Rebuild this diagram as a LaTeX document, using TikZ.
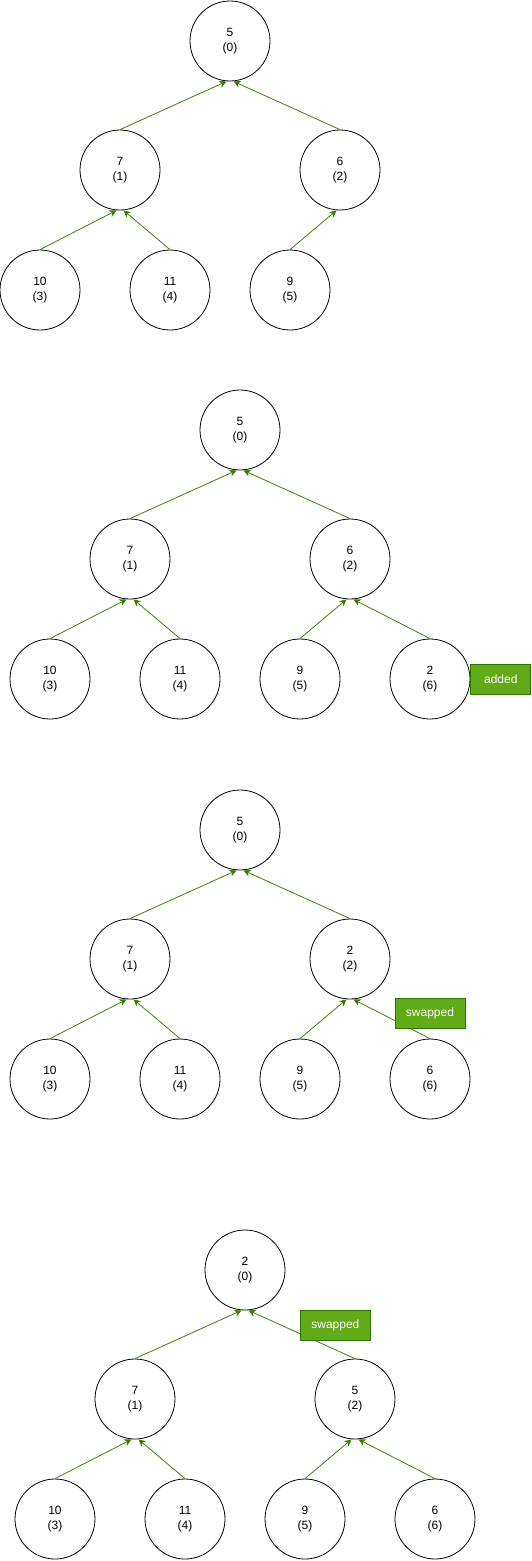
\documentclass[tikz,border=0pt]{standalone}
\usepackage{fontspec}
\setmainfont{Liberation Sans}
\usepackage{xcolor}
\usepackage{tikz}
\usetikzlibrary{positioning,arrows.meta}
\definecolor{edgegreen}{HTML}{3A8405}
\definecolor{tagfill}{HTML}{60A917}
\definecolor{tagline}{HTML}{2D7600}
\tikzset{
  heapnode/.style={draw=black, circle, minimum size=80pt, inner sep=0pt, line width=0.8pt, align=center, font=\fontsize{12}{14.5}\selectfont},
  heaparrow/.style={draw=edgegreen, line width=0.8pt, -{Stealth[length=7pt, width=7pt, inset=2pt, fill=tagline]}},
  tagbox/.style={draw=tagline, fill=tagfill, text=white, minimum height=30pt, inner sep=0pt, line width=0.8pt, font=\fontsize{12}{14}\selectfont}
}
% one heap: name prefix, x shift, y shift, values by index
\newcommand{\heap}[4]{
  \foreach \v [count=\k from 0] in {#4}{
    \pgfmathsetmacro{\px}{#2+{230,120,340,40,170,290,420}[\k]}
    \pgfmathsetmacro{\py}{#3+{41,170,170,290,290,290,290}[\k]}
    \node[heapnode] (#1\k) at (\px,\py) {\v\\(\k)};
  }
}
\newcommand{\up}[3]{\draw[heaparrow] (#1.north) -- ([xshift=#3]#2.south);}

\begin{document}
\begin{tikzpicture}[x=1pt, y=-1pt]
\useasboundingbox (0,0) rectangle (531,1561);

% before insert
\heap{a}{0}{0}{5,7,6,10,11,9}
\up{a1}{a0}{-3.5} \up{a2}{a0}{3.5}
\up{a3}{a1}{-3.5} \up{a4}{a1}{3.5}
\up{a5}{a2}{-3.5}

% 2 added at the end
\heap{b}{10}{389}{5,7,6,10,11,9,2}
\up{b1}{b0}{-3.5} \up{b2}{b0}{3.5}
\up{b3}{b1}{-3.5} \up{b4}{b1}{3.5}
\up{b5}{b2}{-3.5} \up{b6}{b2}{3.5}
\node[tagbox, minimum width=60pt, right=0pt of b6] (addtag) {added};

% first swap
\heap{c}{10}{789}{5,7,2,10,11,9,6}
\up{c1}{c0}{-3.5} \up{c2}{c0}{3.5}
\up{c3}{c1}{-3.5} \up{c4}{c1}{3.5}
\up{c5}{c2}{-3.5} \up{c6}{c2}{3.5}
\node[tagbox, minimum width=70pt, above=9.5pt of c6] (swaptag1) {swapped};

% second swap
\heap{d}{15}{1229}{2,7,5,10,11,9,6}
\up{d1}{d0}{-3.5} \up{d2}{d0}{3.5}
\up{d3}{d1}{-3.5} \up{d4}{d1}{3.5}
\up{d5}{d2}{-3.5} \up{d6}{d2}{3.5}
\node[tagbox, minimum width=70pt, anchor=north west] (swaptag2) at ([xshift=55pt]d0.south) {swapped};
\end{tikzpicture}
\end{document}
